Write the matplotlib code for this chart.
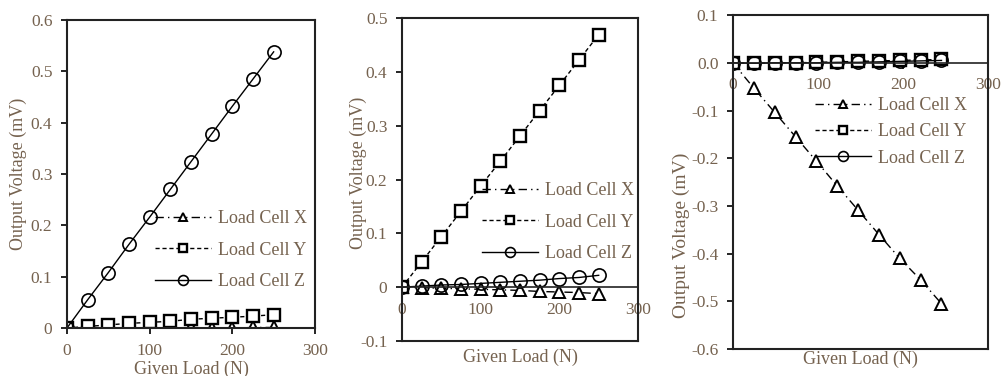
import matplotlib
matplotlib.use("Agg")
import matplotlib.pyplot as plt
from matplotlib.lines import Line2D

plt.rcParams['font.family'] = ['Liberation Serif', 'DejaVu Serif']

# given load (N)
load_25 = [0, 25, 50, 75, 100, 125, 150, 175, 200, 225, 250]
load_245 = [0, 24.5, 49.1, 73.6, 98.1, 122.6, 147.2, 171.7, 196.2, 220.7, 245.3]

# panel 1 - load applied along Z
p1_x = [0, 0, 0, 0, 0, 0, 0.001, 0, 0, 0.001, 0.001]
p1_y = [0, 0.003, 0.006, 0.009, 0.011, 0.013, 0.017, 0.019, 0.021, 0.023, 0.026]
p1_z = [0, 0.055, 0.108, 0.163, 0.216, 0.270, 0.324, 0.378, 0.432, 0.485, 0.538]

# panel 2 - load applied along Y
p2_x = [0, -0.001, -0.002, -0.003, -0.004, -0.005, -0.006, -0.008, -0.009, -0.010, -0.012]
p2_y = [0, 0.047, 0.094, 0.141, 0.188, 0.234, 0.281, 0.328, 0.375, 0.422, 0.469]
p2_z = [0, 0.002, 0.004, 0.005, 0.007, 0.009, 0.011, 0.013, 0.016, 0.018, 0.022]

# panel 3 - load applied along X
p3_x = [0, -0.053, -0.104, -0.155, -0.206, -0.258, -0.309, -0.360, -0.410, -0.455, -0.505]
p3_y = [0, -0.001, 0, 0, 0.001, 0.002, 0.003, 0.004, 0.005, 0.006, 0.007]
p3_z = [0, -0.001, 0, 0, 0, 0.001, 0.001, 0.002, 0.003, 0.004, 0.005]

labels = ['Load Cell X', 'Load Cell Y', 'Load Cell Z']
xticks = [0, 100, 200, 300]
p1_yticks = [0, 0.1, 0.2, 0.3, 0.4, 0.5, 0.6]
p1_ylabels = ['0', '0.1', '0.2', '0.3', '0.4', '0.5', '0.6']
p2_yticks = [-0.1, 0, 0.1, 0.2, 0.3, 0.4, 0.5]
p2_ylabels = ['-0.1', '0', '0.1', '0.2', '0.3', '0.4', '0.5']
p3_yticks = [-0.6, -0.5, -0.4, -0.3, -0.2, -0.1, 0, 0.1]
p3_ylabels = ['-0.6', '-0.5', '-0.4', '-0.3', '-0.2', '-0.1', '0.0', '0.1']

TXT = '#75624f'
FS = 13

fig = plt.figure(figsize=(10.06, 3.76), dpi=100)


def draw_panel(rect, xs, sx, sy, sz, ylim, yticks, ylabels, zero_axis,
               leg_anchor, ylab_coords, xlab_y, ylab_size=FS, leg_space=0.8):
    ax = fig.add_axes(rect)
    ax.plot(xs, sx, color='k', lw=1, ls=(0, (6, 3, 1, 3)), marker='^',
            ms=8.5, mfc='white', mec='k', mew=1.4, label=labels[0])
    ax.plot(xs, sy, color='k', lw=1, ls=(0, (3, 2)), marker='s',
            ms=8, mfc='white', mec='k', mew=1.7, label=labels[1])
    ax.plot(xs, sz, color='k', lw=1, ls='-', marker='o',
            ms=9.5, mfc='none', mec='k', mew=1.2, label=labels[2])
    ax.set_xlim(0, 300)
    ax.set_ylim(*ylim)
    ax.set_xticks(xticks)
    ax.set_xticklabels([str(t) for t in xticks])
    ax.set_yticks(yticks)
    ax.set_yticklabels(ylabels)
    for s in ax.spines.values():
        s.set_linewidth(1.5)
        s.set_color('#222222')
    if zero_axis:
        ax.spines['bottom'].set_position(('data', 0))
        ax.spines['bottom'].set_linewidth(1.2)
        ax.add_artist(Line2D([0, 1], [0, 0], transform=ax.transAxes,
                             color='#222222', lw=1.5, clip_on=False))
    ax.tick_params(axis='both', direction='out', length=4, width=1.2,
                   labelsize=12.5, labelcolor=TXT, pad=6.5)
    ax.set_xlabel('Given Load (N)', fontsize=FS, color=TXT)
    ax.set_ylabel('Output Voltage (mV)', fontsize=ylab_size, color=TXT)
    ax.yaxis.set_label_coords(*ylab_coords)
    ax.xaxis.set_label_coords(0.5, xlab_y)
    ax.legend(loc='center left', bbox_to_anchor=leg_anchor, frameon=False,
              fontsize=FS, handlelength=3.1, handletextpad=0.4,
              labelspacing=leg_space, borderpad=0, borderaxespad=0,
              markerscale=0.75, labelcolor=TXT)
    return ax


draw_panel([0.0666, 0.1277, 0.2465, 0.819], load_25, p1_x, p1_y, p1_z,
           (0, 0.6), p1_yticks, p1_ylabels, False,
           (0.355, 0.253), (-0.16, 0.5), -0.105)
draw_panel([0.3996, 0.0931, 0.2346, 0.859], load_25, p2_x, p2_y, p2_z,
           (-0.1, 0.5), p2_yticks, p2_ylabels, True,
           (0.339, 0.368), (-0.15, 0.52), -0.025)
draw_panel([0.7286, 0.0718, 0.2535, 0.888], load_245, p3_x, p3_y, p3_z,
           (-0.6, 0.1), p3_yticks, p3_ylabels, True,
           (0.32, 0.650), (-0.17, 0.34), -0.005, ylab_size=14, leg_space=0.5)

fig.savefig('out.png', dpi=100)
